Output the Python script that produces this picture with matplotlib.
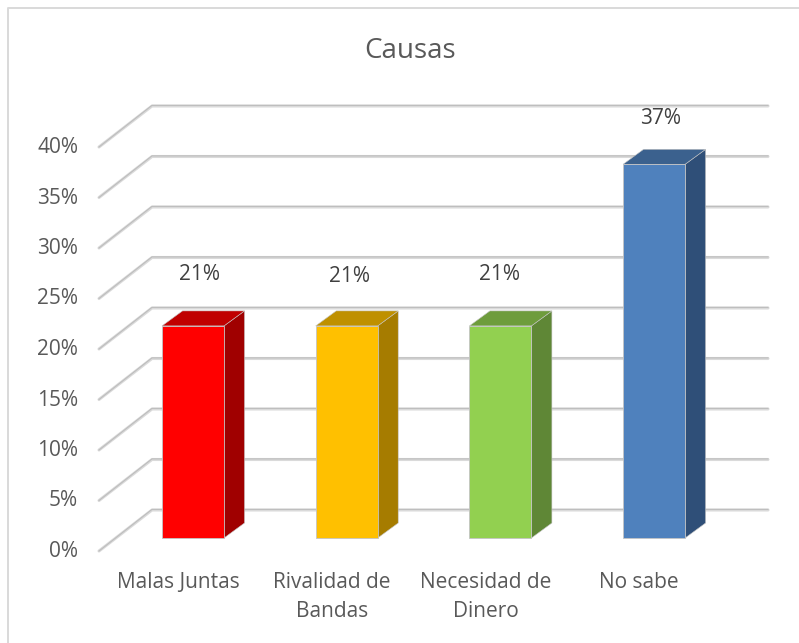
import matplotlib
matplotlib.use("Agg")
import matplotlib.pyplot as plt
from matplotlib.patches import Polygon

plt.rcParams['font.family'] = ['Open Sans', 'DejaVu Sans']

title = "Causas"
categories = ["Malas Juntas", "Rivalidad de\nBandas", "Necesidad de\nDinero", "No sabe"]
values = [21, 21, 21, 37]
value_labels = ["21%", "21%", "21%", "37%"]
ticks = [0, 5, 10, 15, 20, 25, 30, 35, 40]
front_colors = ["#FF0000", "#FFC000", "#92D050", "#4F81BD"]
top_colors = ["#C00000", "#BF9000", "#6E9C3C", "#3B618E"]
side_colors = ["#A00000", "#A67C00", "#5F8736", "#2F4F78"]
label_y_px = [274, 276, 274, 119]
label_x_px = [200, 349, 500, 661]

W, H = 799, 643
fig = plt.figure(figsize=(W / 100, H / 100), dpi=100)
ax = fig.add_axes([0, 0, 1, 1])
ax.axis("off")
PX_Y = 10.1      # pixels per percent
PX_X = 153.7     # pixels per category
Y0 = 538
X0 = 193
ax.set_xlim((0 - X0) / PX_X, (W - X0) / PX_X)
ax.set_ylim((Y0 - H) / PX_Y, Y0 / PX_Y)

def X(px): return (px - X0) / PX_X
def DY(px): return px / PX_Y
def YP(py): return (Y0 - py) / PX_Y

# partial outer frame (left and top edges only are visible)
ax.plot([X(8), X(8), X(799)], [YP(643), YP(8), YP(8)], color="#D9D9D9", lw=1.4, zorder=0)

# walls
front_off = DY(-13)
back_off = DY(28)
xf, xb, xr = X(99), X(152), X(768)
for t in ticks:
    ax.plot([xf, xb, xr], [t + front_off, t + back_off, t + back_off], color="#DADADA",
            lw=2.2, solid_capstyle="round", solid_joinstyle="round", zorder=1)
    ax.plot([xf, xb, xr], [t + front_off, t + back_off + 0.06, t + back_off + 0.06],
            color="#BDBDBD", lw=0.8, zorder=1.1)
    ax.text(X(78), t + front_off + DY(-0.5), f"{t}%", ha="right",
            va="center", fontsize=15, color="#595959", zorder=5)

# bars
bw = 62 / PX_X
ddx, ddy = 20.5 / PX_X, DY(15)
for i, v in enumerate(values):
    l, r = i - bw / 2, i + bw / 2
    ax.add_patch(Polygon([(r, 0), (r + ddx, ddy), (r + ddx, v + ddy), (r, v)],
                         fc=side_colors[i], ec="#C4C4C4", lw=0.4, zorder=3))
    ax.add_patch(Polygon([(l, v), (r, v), (r + ddx, v + ddy), (l + ddx, v + ddy)],
                         fc=top_colors[i], ec="#C4C4C4", lw=0.4, zorder=3))
    ax.bar(i, v, width=bw, color=front_colors[i], edgecolor="#C4C4C4", lw=0.6, zorder=4)
    ax.text(X(label_x_px[i]), YP(label_y_px[i]), value_labels[i], ha="center", va="center",
            fontsize=15, color="#404040", zorder=6)
    ax.text(i - 15 / PX_X, DY(-34), categories[i], ha="center", va="top", fontsize=15,
            color="#595959", linespacing=1.5, zorder=5)

ax.text(X(410), YP(51), title, ha="center", va="center", fontsize=20, color="#595959")

fig.savefig("out.png", dpi=100, facecolor="white")
